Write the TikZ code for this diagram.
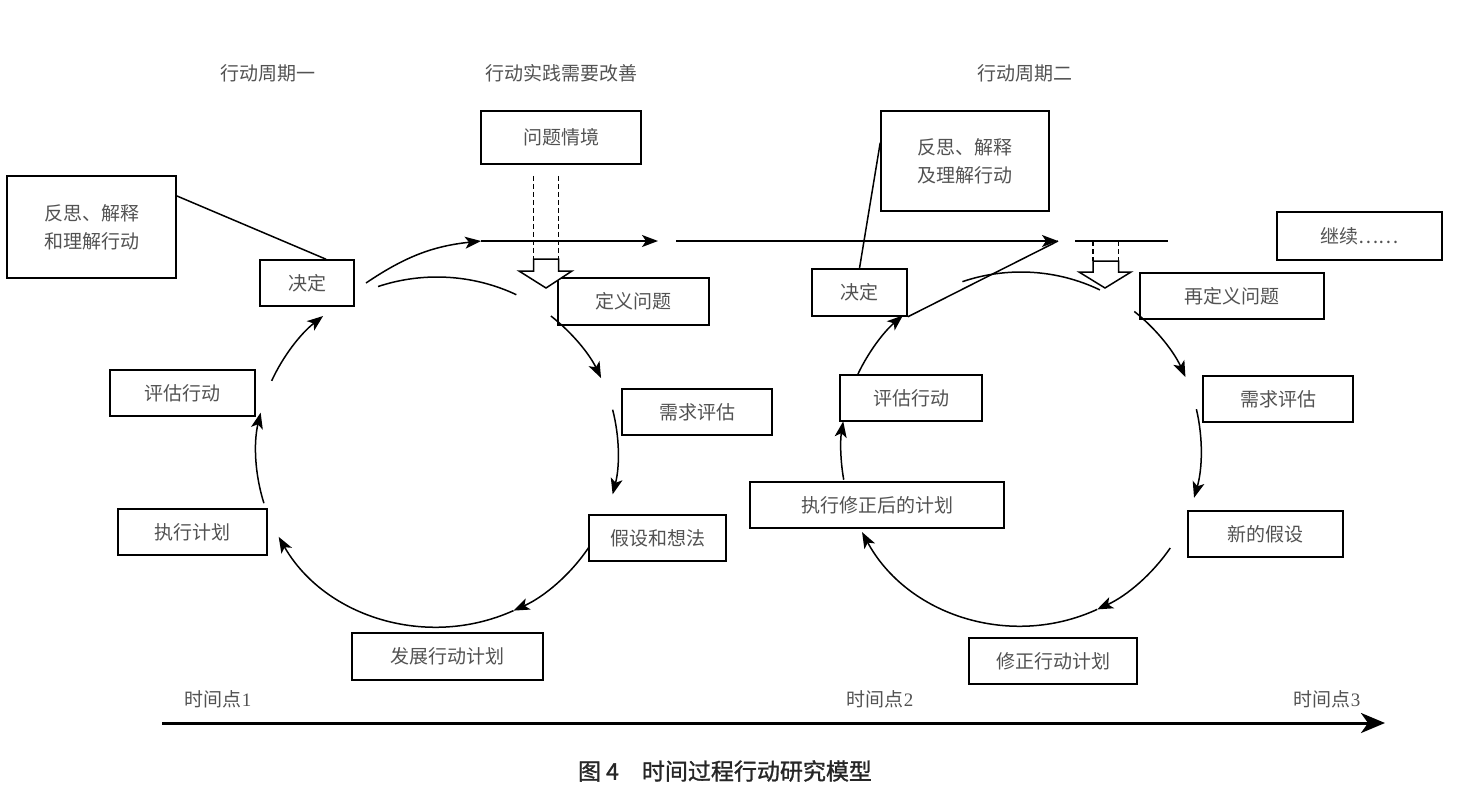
\documentclass[tikz,border=0pt]{standalone}
\usepackage{fontspec}
\setmainfont{Liberation Serif}
\newfontfamily\cjk{Noto Sans CJK SC}
\newfontfamily\capfont[FakeBold=1.2]{Noto Sans CJK SC}
\usetikzlibrary{arrows.meta,calc}
\definecolor{txt}{gray}{0.32}
\begin{document}
\begin{tikzpicture}[x=1pt,y=-1pt,
  box/.style={draw, line width=1.6pt, inner sep=0pt, font=\cjk\fontsize{19}{28}\selectfont, text=txt, align=center},
  lbl/.style={font=\cjk\fontsize{19}{23}\selectfont, text=txt, inner sep=0pt},
  tlbl/.style={font=\fontsize{19}{23}\selectfont, text=txt, inner sep=0pt},
  arcl/.style={line width=1.5pt},
  arr/.style={arcl, -{Stealth[length=16pt,width=12pt,inset=4pt]}},
  dsh/.style={line width=1.2pt, dash pattern=on 5pt off 3pt},
  hollow/.style={line width=1.5pt, fill=white, line join=miter},
]
\useasboundingbox (0,0) rectangle (1466,804);

% titles
\node[lbl] (t1) at (268,73) {行动周期一};
\node[lbl] (t2) at (561,73) {行动实践需要改善};
\node[lbl] (t3) at (1025,73) {行动周期二};

% boxes, cycle one
\node[box, minimum width=160pt, minimum height=53pt] (wt) at (561,137.5) {问题情境};
\node[box, minimum width=169pt, minimum height=102pt] (rf1) at (91.5,227) {反思、解释\\和理解行动};
\node[box, minimum width=94pt, minimum height=46pt] (jd1) at (307,283) {决定};
\node[box, minimum width=151pt, minimum height=47pt] (dy1) at (633.5,301.5) {定义问题};
\node[box, minimum width=150pt, minimum height=46pt] (xq1) at (697,412) {需求评估};
\node[box, minimum width=137pt, minimum height=46pt] (js1) at (657.5,538) {假设和想法};
\node[box, minimum width=191pt, minimum height=47pt] (fz) at (447.5,656.5) {发展行动计划};
\node[box, minimum width=149pt, minimum height=46pt] (zx1) at (192.5,532) {执行计划};
\node[box, minimum width=145pt, minimum height=46pt] (pg1) at (182.5,393) {评估行动};

% boxes, cycle two
\node[box, minimum width=95pt, minimum height=47pt] (jd2) at (859.5,292.5) {决定};
\node[box, minimum width=168pt, minimum height=100pt] (rf2) at (965,161) {反思、解释\\及理解行动};
\node[box, minimum width=165pt, minimum height=48pt] (jx) at (1359.5,236) {继续……};
\node[box, minimum width=184pt, minimum height=46pt] (dy2) at (1232,296) {再定义问题};
\node[box, minimum width=142pt, minimum height=46pt] (pg2) at (911,398) {评估行动};
\node[box, minimum width=150pt, minimum height=46pt] (xq2) at (1278,399) {需求评估};
\node[box, minimum width=254pt, minimum height=46pt] (zx2) at (877,505) {执行修正后的计划};
\node[box, minimum width=155pt, minimum height=46pt] (js2) at (1265.5,534) {新的假设};
\node[box, minimum width=168pt, minimum height=46pt] (xz) at (1053,661) {修正行动计划};

% links from reflection boxes
\draw[arcl] ($(rf1.north east)!0.2!(rf1.south east)$) -- ($(jd1.north)+(19,0)$);
\draw[arcl] ($(rf2.north west)!0.32!(rf2.south west)$) -- (jd2.north);

% main horizontal flow
\coordinate (c0) at (366,283);
\coordinate (h1s) at (481,241);
\coordinate (h1e) at (658,241);
\coordinate (h2s) at (676,241);
\coordinate (h2e) at (1058,241);
\coordinate (h3s) at (1075,241);
\coordinate (h3e) at (1168,241);
\draw[arr] (c0) to[bend left=14] (h1s);
\draw[arr] (h1s) -- (h1e);
\draw[arr] (h2s) -- (h2e);
\draw[arcl] (jd2.south east) -- (h2e);
\draw[arcl] (h3s) -- (h3e);

% hollow arrows and dashed lines
\coordinate (ha1l) at (533.5,259);
\coordinate (ha1r) at (558.5,259);
\draw[dsh] ($(wt.south -| ha1l)+(0,11)$) -- (ha1l);
\draw[dsh] ($(wt.south -| ha1r)+(0,11)$) -- (ha1r);
\draw[hollow] (ha1l) -- (ha1r) -- (558.5,271) -- (572,271) -- (546,288) -- (519,271) -- (533.5,271) -- cycle;

\coordinate (ha2l) at (1093,261);
\coordinate (ha2r) at (1118.5,261);
\draw[dsh] (ha2l |- h3s) -- (ha2l);
\draw[dsh] (ha2r |- h3s) -- (ha2r);
\draw[hollow] (ha2l) -- (ha2r) -- (1118.5,272) -- (1131,272) -- (1105,288) -- (1079,272) -- (1093,272) -- cycle;

% cycle one arcs
\coordinate (LC) at (437,452);
\foreach \n/\a in {1/109,2/51,3/14,4/-33,5/-65,6/197,7/156}
  \coordinate (L\n) at ($(LC)+(\a:181pt and 175pt)$);
\draw[arcl] (L1) arc[start angle=109, end angle=64, x radius=181pt, y radius=175pt];
\draw[arr] (L2) arc[start angle=51, end angle=25, x radius=181pt, y radius=175pt];
\draw[arr] (L3) arc[start angle=14, end angle=-14, x radius=181pt, y radius=175pt];
\draw[arr] (L4) arc[start angle=-33, end angle=-65, x radius=181pt, y radius=175pt];
\draw[arr] (L5) arc[start angle=-65, end angle=-151, x radius=181pt, y radius=175pt];
\draw[arr] (L6) arc[start angle=197, end angle=167, x radius=181pt, y radius=175pt];
\draw[arr] (L7) arc[start angle=156, end angle=129, x radius=181pt, y radius=175pt];

% cycle two arcs
\coordinate (RC) at (1021,449);
\foreach \n/\a in {1/109,2/51,3/13,4/-34,5/-65,6/190,7/155}
  \coordinate (R\n) at ($(RC)+(\a:180pt and 177pt)$);
\draw[arcl] (R1) arc[start angle=109, end angle=64, x radius=180pt, y radius=177pt];
\draw[arr] (R2) arc[start angle=51, end angle=24, x radius=180pt, y radius=177pt];
\draw[arr] (R3) arc[start angle=13, end angle=-16, x radius=180pt, y radius=177pt];
\draw[arr] (R4) arc[start angle=-34, end angle=-65, x radius=180pt, y radius=177pt];
\draw[arr] (R5) arc[start angle=-65, end angle=-152, x radius=180pt, y radius=177pt];
\draw[arr] (R6) arc[start angle=190, end angle=171, x radius=180pt, y radius=177pt];
\draw[arr] (R7) arc[start angle=155, end angle=131, x radius=180pt, y radius=177pt];

% time axis
\node[tlbl] (tp1) at (218,699) {{\cjk 时间点}1};
\node[tlbl] (tp2) at (880,699) {{\cjk 时间点}2};
\node[tlbl] (tp3) at (1327,699) {{\cjk 时间点}3};
\coordinate (ta0) at (162,723);
\coordinate (ta1) at (1385,723);
\draw[line width=3pt, -{Stealth[length=24pt,width=20pt,inset=7pt]}] (ta0) -- (ta1);

% caption
\node[font=\capfont\fontsize{23}{26}\selectfont, text=black!85, inner sep=0pt] (cap) at (725,771) {图 4\quad 时间过程行动研究模型};
\end{tikzpicture}
\end{document}
